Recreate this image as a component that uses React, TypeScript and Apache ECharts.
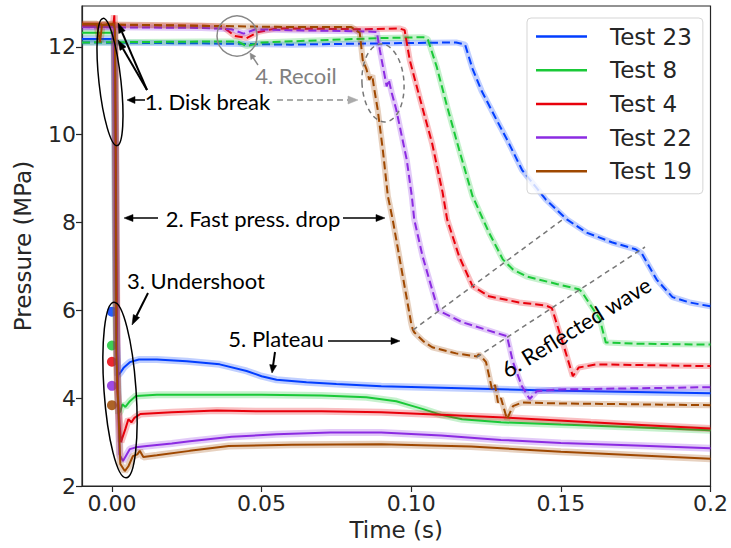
import React, { useEffect, useRef } from 'react';
import * as echarts from 'echarts';

const testNames = ['Test 23', 'Test 8', 'Test 4', 'Test 22', 'Test 19'];
const testColors = ['#023eff', '#1ac938', '#e8000b', '#8b2be2', '#9f4800'];

const xTicks = [0, 0.05, 0.1, 0.15, 0.2];
const yTicks = [2, 4, 6, 8, 10, 12];

// downstream (solid) pressure traces [time s, MPa]
const t23Down = [[-0.01, 12.18], [0.0008, 12.18], [0.0012, 9.8], [0.0016, 5.2], [0.002, 4.52], [0.0028, 4.58], [0.004, 4.7], [0.006, 4.82], [0.009, 4.88], [0.015, 4.88], [0.025, 4.84], [0.036, 4.77], [0.045, 4.62], [0.05, 4.5], [0.055, 4.42], [0.065, 4.36], [0.075, 4.32], [0.09, 4.27], [0.12, 4.22], [0.15, 4.17], [0.2, 4.11]];
const t8Down = [[-0.01, 12.32], [0.0008, 12.32], [0.0013, 6.0], [0.0022, 3.65], [0.0028, 3.7], [0.0035, 3.86], [0.0045, 3.8], [0.006, 3.93], [0.008, 4.05], [0.015, 4.08], [0.03, 4.08], [0.05, 4.08], [0.07, 4.06], [0.085, 4.02], [0.095, 3.93], [0.1, 3.83], [0.104, 3.75], [0.11, 3.62], [0.117, 3.52], [0.13, 3.45], [0.15, 3.4], [0.175, 3.34], [0.2, 3.27]];
const t4Down = [[-0.01, 12.5], [0.0005, 12.5], [0.0008, 12.72], [0.0011, 11.4], [0.0018, 4.2], [0.003, 3.0], [0.0045, 3.3], [0.0055, 3.52], [0.0065, 3.45], [0.0075, 3.55], [0.0095, 3.64], [0.02, 3.68], [0.035, 3.72], [0.05, 3.7], [0.07, 3.7], [0.09, 3.68], [0.11, 3.62], [0.134, 3.55], [0.16, 3.45], [0.18, 3.38], [0.2, 3.31]];
const t22Down = [[-0.01, 12.45], [0.0007, 12.45], [0.0013, 6.5], [0.0025, 2.72], [0.0037, 2.57], [0.0048, 2.7], [0.006, 2.84], [0.008, 2.88], [0.0117, 2.91], [0.02, 2.97], [0.026, 3.02], [0.04, 3.12], [0.055, 3.18], [0.073, 3.22], [0.09, 3.22], [0.11, 3.15], [0.13, 3.05], [0.15, 2.98], [0.175, 2.92], [0.2, 2.86]];
const t19Down = [[-0.01, 12.52], [-0.005, 12.52], [-0.004, 12.1], [-0.0033, 12.5], [0.0005, 12.52], [0.001, 12.4], [0.0015, 5.0], [0.0028, 2.5], [0.0043, 2.34], [0.0055, 2.45], [0.007, 2.68], [0.0085, 2.72], [0.0093, 2.8], [0.0105, 2.66], [0.015, 2.7], [0.026, 2.8], [0.039, 2.91], [0.06, 2.94], [0.09, 2.95], [0.12, 2.9], [0.15, 2.78], [0.175, 2.7], [0.2, 2.62]];

// upstream (dashed) pressure traces [time s, MPa]
const t23Up = [[-0.01, 12.1], [0.03, 12.08], [0.06, 12.05], [0.09, 12.08], [0.115, 12.1], [0.118, 12.05], [0.1205, 11.5], [0.1235, 11.0], [0.1285, 10.34], [0.132, 9.89], [0.137, 9.2], [0.145, 8.52], [0.152, 8.07], [0.1586, 7.77], [0.167, 7.55], [0.175, 7.39], [0.177, 7.3], [0.182, 6.7], [0.1873, 6.3], [0.193, 6.18], [0.2, 6.09]];
const t8Up = [[-0.01, 12.1], [0.03, 12.12], [0.042, 12.12], [0.045, 12.02], [0.05, 12.1], [0.07, 12.15], [0.09, 12.2], [0.104, 12.22], [0.1055, 12.18], [0.1085, 11.55], [0.112, 10.64], [0.116, 9.66], [0.1205, 8.6], [0.124, 8.07], [0.126, 7.77], [0.1306, 7.16], [0.134, 6.93], [0.1386, 6.77], [0.1486, 6.6], [0.156, 6.48], [0.157, 6.42], [0.163, 5.8], [0.165, 5.27], [0.175, 5.24], [0.2, 5.22]];
const t4Up = [[-0.01, 12.5], [0.03, 12.48], [0.037, 12.46], [0.041, 12.25], [0.045, 12.2], [0.049, 12.34], [0.055, 12.42], [0.085, 12.4], [0.096, 12.42], [0.0978, 12.38], [0.0995, 11.7], [0.103, 10.8], [0.107, 9.8], [0.1105, 8.68], [0.112, 8.07], [0.116, 7.23], [0.1205, 6.55], [0.126, 6.32], [0.136, 6.18], [0.145, 6.11], [0.147, 6.05], [0.1506, 5.27], [0.154, 4.5], [0.156, 4.7], [0.162, 4.77], [0.18, 4.75], [0.2, 4.73]];
const t22Up = [[-0.01, 12.45], [0.03, 12.43], [0.04, 12.4], [0.044, 12.3], [0.048, 12.4], [0.06, 12.38], [0.085, 12.35], [0.0885, 12.34], [0.0895, 11.93], [0.0918, 11.1], [0.0925, 11.25], [0.0935, 10.95], [0.095, 10.57], [0.0985, 9.43], [0.1002, 8.6], [0.101, 8.07], [0.1038, 7.23], [0.109, 6.0], [0.117, 5.73], [0.132, 5.41], [0.134, 4.82], [0.137, 4.27], [0.1396, 3.98], [0.142, 4.16], [0.15, 4.2], [0.2, 4.25]];
const t19Up = [[-0.01, 12.52], [0.03, 12.48], [0.06, 12.45], [0.08, 12.45], [0.0828, 12.32], [0.0838, 11.7], [0.085, 11.5], [0.086, 11.25], [0.087, 11.35], [0.0875, 11.1], [0.0888, 10.57], [0.0905, 9.66], [0.0922, 8.6], [0.0938, 8.07], [0.0972, 6.77], [0.1, 5.7], [0.1005, 5.57], [0.101, 5.5], [0.104, 5.3], [0.107, 5.16], [0.115, 5.02], [0.122, 4.95], [0.1225, 5.0], [0.124, 4.9], [0.125, 4.82], [0.127, 4.2], [0.128, 4.3], [0.129, 3.9], [0.13, 4.0], [0.132, 3.52], [0.134, 3.82], [0.137, 3.9], [0.15, 3.88], [0.2, 3.84]];

// markers at t = 0
const startDots = [5.97, 5.2, 4.83, 4.28, 3.84];

const downTraces = [t23Down, t8Down, t4Down, t22Down, t19Down];
const upTraces = [t23Up, t8Up, t4Up, t22Up, t19Up];

const ANN_FONT = 'Lato, "Open Sans", sans-serif';
const TICK_FONT = '"DejaVu Sans", sans-serif';

function arrow(x1: number, y1: number, x2: number, y2: number, color: string, width: number, headLen: number, headHalf: number, dash?: number[]) {
  const dx = x2 - x1;
  const dy = y2 - y1;
  const len = Math.sqrt(dx * dx + dy * dy);
  const ux = dx / len;
  const uy = dy / len;
  const bx = x2 - ux * headLen;
  const by = y2 - uy * headLen;
  const px = -uy;
  const py = ux;
  return [
    {
      type: 'line', z: 100, silent: true,
      shape: { x1, y1, x2: bx, y2: by },
      style: { stroke: color, lineWidth: width, lineDash: dash || null },
    },
    {
      type: 'polygon', z: 100, silent: true,
      shape: { points: [[x2, y2], [bx + px * headHalf, by + py * headHalf], [bx - px * headHalf, by - py * headHalf]] },
      style: { fill: color, stroke: color, lineWidth: 0.5 },
    },
  ];
}

function label(text: string, x: number, y: number, color: string, size: number, rotation = 0) {
  return {
    type: 'text', z: 100, silent: true, x, y, rotation,
    style: {
      text, fill: color, fontSize: size, fontFamily: ANN_FONT,
      align: 'center', verticalAlign: 'middle', textAlign: 'center', textVerticalAlign: 'middle',
    },
  };
}

export default function App() {
  const ref = useRef<HTMLDivElement>(null);
  useEffect(() => {
    if (!ref.current) return;
    const chart = echarts.init(ref.current, undefined, { renderer: 'svg' });

    const series: any[] = [];
    series.push({
      type: 'scatter',
      name: 'start',
      symbolSize: 10,
      data: startDots.map((v, i) => ({ value: [0, v], itemStyle: { color: testColors[i], opacity: 0.85 } })),
      z: 2,
      silent: true,
    });
    downTraces.forEach((d, i) => {
      const c = testColors[i];
      series.push({ type: 'line', name: testNames[i] + ' band', data: d, showSymbol: false, silent: true, lineStyle: { color: c, width: 7, opacity: 0.25 }, itemStyle: { color: c } });
      series.push({ type: 'line', name: testNames[i], data: d, showSymbol: false, silent: true, lineStyle: { color: c, width: 2 }, itemStyle: { color: c } });
      series.push({ type: 'line', name: testNames[i] + ' up band', data: upTraces[i], showSymbol: false, silent: true, lineStyle: { color: c, width: 6, opacity: 0.25 }, itemStyle: { color: c } });
      series.push({ type: 'line', name: testNames[i] + ' up', data: upTraces[i], showSymbol: false, silent: true, lineStyle: { color: c, width: 2, type: [8, 4] }, itemStyle: { color: c } });
    });

    const gray = '#777777';
    const graphic: any[] = [
      // ellipses
      { type: 'ellipse', z: 100, silent: true, x: 110, y: 82, rotation: 0.11, shape: { cx: 0, cy: 0, rx: 11, ry: 64 }, style: { fill: 'none', stroke: '#000', lineWidth: 1.5 } },
      { type: 'ellipse', z: 100, silent: true, x: 120, y: 390, rotation: 0.07, shape: { cx: 0, cy: 0, rx: 16, ry: 88 }, style: { fill: 'none', stroke: '#000', lineWidth: 1.5 } },
      { type: 'circle', z: 100, silent: true, shape: { cx: 237, cy: 36, r: 20 }, style: { fill: 'none', stroke: '#888888', lineWidth: 1.5 } },
      { type: 'ellipse', z: 100, silent: true, x: 383, y: 83, rotation: 0.06, shape: { cx: 0, cy: 0, rx: 21, ry: 39 }, style: { fill: 'none', stroke: gray, lineWidth: 1.5, lineDash: [5, 4] } },
      // reflected wave guide lines
      { type: 'line', z: 100, silent: true, shape: { x1: 413, y1: 330, x2: 562, y2: 220 }, style: { stroke: gray, lineWidth: 1.5, lineDash: [5, 4] } },
      { type: 'line', z: 100, silent: true, shape: { x1: 477, y1: 357, x2: 645, y2: 247 }, style: { stroke: gray, lineWidth: 1.5, lineDash: [5, 4] } },
      // arrows
      ...arrow(147, 90, 118, 23, '#000', 2, 10, 3.5),
      ...arrow(147, 90, 118, 40, '#000', 2, 10, 3.5),
      ...arrow(145, 100, 127, 100, '#000', 1.5, 8, 3.5),
      ...arrow(277, 100, 358, 100, '#aaaaaa', 2, 10, 4, [6, 4]),
      ...arrow(258, 65, 250, 53, '#888888', 1.5, 6, 3),
      ...arrow(158, 218, 124, 218, '#000', 1.5, 9, 3.5),
      ...arrow(343, 218, 385, 218, '#000', 1.5, 9, 3.5),
      ...arrow(148, 293, 132, 325, '#000', 2, 10, 3.5),
      ...arrow(328, 341, 400, 341, '#000', 1.5, 9, 3.5),
      ...arrow(275, 352, 272, 373, '#000', 2, 8, 3.5),
      // texts
      label('1. Disk break', 207.5, 101, '#000', 22),
      label('2. Fast press. drop', 253, 218, '#000', 22),
      label('3. Undershoot', 196, 280, '#000', 22),
      label('4. Recoil', 296, 75, '#808080', 22),
      label('5. Plateau', 276, 338, '#000', 22),
      label('6. Reflected wave', 576, 327, '#000', 22, 0.55),
    ];

    chart.setOption({
      animation: false,
      backgroundColor: '#ffffff',
      grid: { left: 82, right: 19, top: 6, bottom: 62, show: true, borderColor: '#262626', borderWidth: 1.2, backgroundColor: 'transparent' },
      xAxis: {
        type: 'value', min: -0.01, max: 0.2,
        name: 'Time (s)', nameLocation: 'middle', nameGap: 30,
        nameTextStyle: { fontFamily: TICK_FONT, fontSize: 23, color: '#262626' },
        axisLine: { show: true, onZero: false, lineStyle: { color: '#262626', width: 1.2 } },
        axisTick: { show: true, inside: false, length: 6, customValues: xTicks, lineStyle: { color: '#262626', width: 1.2 } },
        axisLabel: { customValues: xTicks, margin: 6, fontFamily: TICK_FONT, fontSize: 22, color: '#262626', formatter: (v: number) => (Math.abs(v - 0.2) < 1e-9 ? '0.2' : v.toFixed(2)) },
        splitLine: { show: false },
      },
      yAxis: {
        type: 'value', min: 2, max: 12.93,
        name: 'Pressure (MPa)', nameLocation: 'middle', nameGap: 48,
        nameTextStyle: { fontFamily: TICK_FONT, fontSize: 23, color: '#262626' },
        axisLine: { show: true, onZero: false, lineStyle: { color: '#262626', width: 1.2 } },
        axisTick: { show: true, inside: false, length: 6, customValues: yTicks, lineStyle: { color: '#262626', width: 1.2 } },
        axisLabel: { customValues: yTicks, margin: 6, fontFamily: TICK_FONT, fontSize: 22, color: '#262626', formatter: (v: number) => String(Math.round(v)) },
        splitLine: { show: false },
      },
      legend: {
        orient: 'vertical', left: 527, top: 18,
        data: testNames, icon: 'rect', itemWidth: 51, itemHeight: 2.5, itemGap: 10.7,
        padding: [7, 11, 11, 9],
        backgroundColor: 'rgba(255,255,255,0.8)', borderColor: '#d5d5d5', borderWidth: 1, borderRadius: 4,
        formatter: (n: string) => `{a|${n}}`,
        textStyle: { rich: { a: { fontFamily: TICK_FONT, fontSize: 23, lineHeight: 26, color: '#262626', padding: [0, 0, 0, 18] } } },
        selectedMode: false,
        z: 50,
      },
      series,
      graphic,
    });
    return () => chart.dispose();
  }, []);
  return <div ref={ref} style={{ position: 'fixed', left: 0, top: 0, width: 731, height: 548 }} />;
}
